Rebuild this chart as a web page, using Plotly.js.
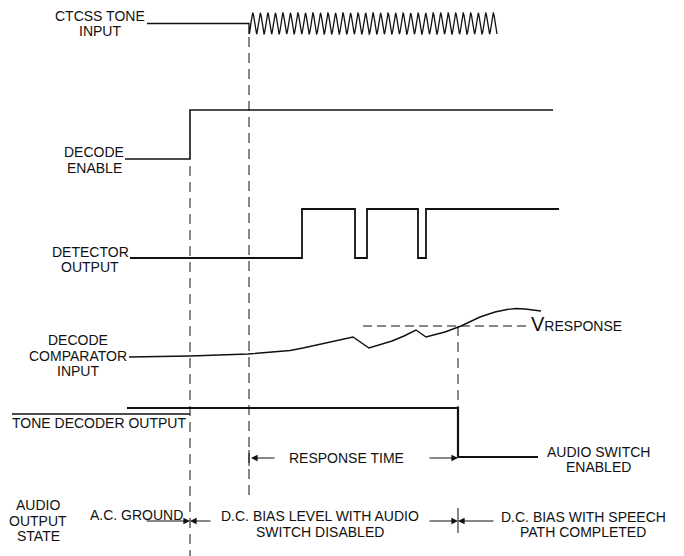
<!DOCTYPE html>
<html><head><meta charset="utf-8">
<script src="https://cdn.plot.ly/plotly-3.0.1.min.js"></script>
<style>html,body{margin:0;padding:0;background:#fff}</style>
</head><body><div id="chart" style="width:684px;height:556px"></div>
<script>
// ---------- DATA (time in diagram units, left to right) ----------
const tEnable = 190;      // decode enable goes high
const tToneOn = 249;      // CTCSS tone applied
const tResponse = 458;    // comparator crosses V_RESPONSE

// CTCSS tone input
const ctcssIdleT = [147, 249];
const toneStart = 249, toneEnd = 497, toneCycles = 33;

// Decode enable (logic level)
const enableT = [125, 190, 553];
const enableLvl = [0, 1, 1];

// Detector output (logic level)
const detectorT = [130, 302, 355, 367, 418, 426, 559];
const detectorLvl = [0, 1, 0, 1, 0, 1, 1];

// Decode comparator input (relative level, 0 = rest)
const compT = [129, 190, 248, 277, 290, 303, 316, 329, 341, 353, 369, 380, 392, 404, 416, 426, 445, 461, 480, 495, 507, 516, 525, 541];
const compV = [0, 1, 3, 5, 6.5, 9, 12, 15, 17.5, 20, 9, 12, 16, 21, 27, 20, 25, 31, 40, 45, 47.5, 48.5, 48, 46];
const vResponse = 31;
const vRespT = [363, 527];

// Tone decoder output (logic level)
const decoderT = [127, 458, 538];
const decoderLvl = [1, 0, 0];

// Labels
const ctcssLabel = ["CTCSS TONE", "INPUT"];
const enableLabel = ["DECODE", "ENABLE"];
const detectorLabel = ["DETECTOR", "OUTPUT"];
const compLabel = ["DECODE", "COMPARATOR", "INPUT"];
const decoderLabel = "TONE DECODER OUTPUT";
const audioLabel = ["AUDIO", "OUTPUT", "STATE"];
const responseLabel = "RESPONSE TIME";
const switchLabel = ["AUDIO SWITCH", "ENABLED"];
const stateLabels = [["A.C. GROUND"], ["D.C. BIAS LEVEL WITH AUDIO", "SWITCH DISABLED"], ["D.C. BIAS WITH SPEECH", "PATH COMPLETED"]];

// ---------- LAYOUT GEOMETRY (rows, in px of the vertical axis) ----------
const ink = "#111";
const FONT = {family: "Liberation Sans, Arial, sans-serif", size: 14, color: ink};
const rowCtcss = {mid: 23.5, amp: 10.5};
const rowEnable = {low: 159, high: 110};
const rowDet = {low: 258, high: 209};
const rowComp = {base: 357, scale: 1};
const rowDec = {low: 457, high: 408};
const lvl = (row, v) => row.low - v * (row.low - row.high);

const traces = [];
function line(x, y, opt) {
  traces.push(Object.assign({type: "scatter", mode: "lines", x: x, y: y, hoverinfo: "skip",
    line: Object.assign({color: ink, width: 1.5}, opt || {})}));
}

// CTCSS tone: idle line then sinusoid
(function () {
  const x = ctcssIdleT.slice(), y = ctcssIdleT.map(() => rowCtcss.mid);
  const n = 1600;
  for (let i = 0; i <= n; i++) {
    const t = toneStart + (toneEnd - toneStart) * i / n;
    x.push(t);
    y.push(rowCtcss.mid + rowCtcss.amp * Math.cos(2 * Math.PI * toneCycles * (t - toneStart) / (toneEnd - toneStart)));
  }
  line(x, y, {width: 1.3});
})();

line(enableT, enableLvl.map(v => lvl(rowEnable, v)), {shape: "hv", width: 1.6});
line(detectorT, detectorLvl.map(v => lvl(rowDet, v)), {shape: "hv", width: 1.8});
line(compT, compV.map(v => rowComp.base - v * rowComp.scale), {width: 1.4});
line(vRespT, vRespT.map(() => rowComp.base - vResponse * rowComp.scale), {dash: "9px,5px", width: 1.2});
line(decoderT, decoderLvl.map(v => lvl(rowDec, v)), {shape: "hv", width: 2.2});
// overline (logic NOT) above decoder label
line([12, tEnable], [414, 414], {width: 1.5});

// Event dashed markers
const dash = {dash: "10px,6px", width: 1};
line([tEnable, tEnable], [166, 556], dash);
line([tToneOn, tToneOn], [37, 496], dash);
line([tResponse, tResponse], [rowComp.base - vResponse * rowComp.scale, rowDec.high], dash);
line([tResponse, tResponse], [508, 533], {width: 1});
line([tToneOn, tToneOn], [450, 466], {width: 1});

// ---------- ANNOTATIONS ----------
const ann = [];
function text(lines, cx, y0, dy, anchor) {
  (Array.isArray(lines) ? lines : [lines]).forEach((s, i) => ann.push({
    x: cx, y: y0 + i * dy, xref: "x", yref: "y", text: s, showarrow: false, borderpad: 0,
    xanchor: anchor || "center", yanchor: "middle", font: FONT}));
}
text(ctcssLabel, 100, 15.5, 15.5);
text(enableLabel, 94, 152, 15.5);
text(detectorLabel, 90, 251.5, 15.5);
text(compLabel, 78, 340, 15.5);
text(decoderLabel, 11, 423, 0, "left");
text(responseLabel, 346, 458, 0);
text(switchLabel, 598, 451.5, 15.5);
text(audioLabel, 38, 505, 15.5);
text(stateLabels[0], 136, 515, 0);
text(stateLabels[1], 320, 516, 15.5);
text(stateLabels[2], 583, 516.5, 15.5);
ann.push({x: 529, y: 324, xref: "x", yref: "y", showarrow: false, xanchor: "left", yanchor: "middle",
  text: "<span style='font-size:20px'>V</span>RESPONSE", font: FONT});

function arrow(tail, head, y) {
  ann.push({x: head, y: y, ax: tail, ay: y, xref: "x", yref: "y", axref: "x", ayref: "y",
    text: "", showarrow: true, arrowhead: 2, arrowsize: 1.1, arrowwidth: 1.2, arrowcolor: ink, standoff: 0});
}
arrow(276, tToneOn + 2, 458);
arrow(428, tResponse, 458);
arrow(145, tEnable, 521);
arrow(212, tEnable, 521);
arrow(428, tResponse, 521);
arrow(495, tResponse, 521);

Plotly.newPlot("chart", traces, {
  width: 684, height: 556, margin: {l: 0, r: 0, t: 0, b: 0},
  paper_bgcolor: "#fff", plot_bgcolor: "#fff", showlegend: false,
  xaxis: {range: [0, 684], visible: false, fixedrange: true},
  yaxis: {range: [556, 0], visible: false, fixedrange: true},
  annotations: ann, font: FONT
}, {staticPlot: true, displayModeBar: false});
</script></body></html>
